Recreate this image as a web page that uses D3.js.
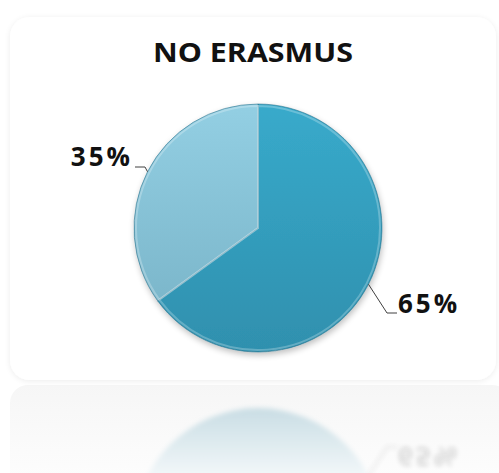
<!DOCTYPE html>
<html>
<head>
<meta charset="utf-8">
<script src="https://cdn.jsdelivr.net/npm/d3@7"></script>
<style>
  html, body { margin: 0; padding: 0; background: #fff; }
  svg { display: block; }
</style>
</head>
<body>
<div id="chart"></div>
<script>
// chart data
const title = 'NO ERASMUS';
const categories = ['Altro', 'Erasmus'];
const values = [65, 35];
const labels = ['65%', '35%'];

const svgWidth = 499;
const svgHeight = 473;
const center = { x: 258, y: 228 };
const radius = 124;
const mirrorY = 380;

const svg = d3.select('#chart').append('svg')
    .attr('width', svgWidth)
    .attr('height', svgHeight);

const defs = svg.append('defs');

// card shadow
const shadow = defs.append('filter').attr('id', 'cardShadow')
    .attr('x', '-10%').attr('y', '-10%').attr('width', '120%').attr('height', '120%');
shadow.append('feGaussianBlur').attr('in', 'SourceAlpha').attr('stdDeviation', 3);
shadow.append('feOffset').attr('dx', 0).attr('dy', 1).attr('result', 'off');
shadow.append('feComponentTransfer').append('feFuncA').attr('type', 'linear').attr('slope', 0.08);
const merge = shadow.append('feMerge');
merge.append('feMergeNode');
merge.append('feMergeNode').attr('in', 'SourceGraphic');

// pie shadow
const pieShadow = defs.append('filter').attr('id', 'pieShadow')
    .attr('x', '-20%').attr('y', '-20%').attr('width', '140%').attr('height', '140%');
pieShadow.append('feGaussianBlur').attr('in', 'SourceAlpha').attr('stdDeviation', 3);
pieShadow.append('feOffset').attr('dx', 1).attr('dy', 3);
pieShadow.append('feComponentTransfer').append('feFuncA').attr('type', 'linear').attr('slope', 0.25);
const pm = pieShadow.append('feMerge');
pm.append('feMergeNode');
pm.append('feMergeNode').attr('in', 'SourceGraphic');

// soft blur for the reflection
defs.append('filter').attr('id', 'reflBlur')
    .attr('x', '-10%').attr('y', '-10%').attr('width', '120%').attr('height', '120%')
    .append('feGaussianBlur').attr('stdDeviation', 2.5);

const sliceColors = [
    ['#38aacb', '#2f90ae'],
    ['#93cfe3', '#76b1c5']
];
sliceColors.forEach((c, i) => {
    const g = defs.append('linearGradient').attr('id', 'slice' + i)
        .attr('gradientUnits', 'userSpaceOnUse')
        .attr('x1', 0).attr('y1', -radius).attr('x2', 0).attr('y2', radius);
    g.append('stop').attr('offset', '0%').attr('stop-color', c[0]);
    g.append('stop').attr('offset', '100%').attr('stop-color', c[1]);
});

const refGrad = defs.append('linearGradient').attr('id', 'refGrad')
    .attr('gradientUnits', 'userSpaceOnUse')
    .attr('x1', 0).attr('y1', -radius).attr('x2', 0).attr('y2', -radius + 70);
refGrad.append('stop').attr('offset', '0%').attr('stop-color', '#c9dde4');
refGrad.append('stop').attr('offset', '100%').attr('stop-color', '#f3f8fa');

const cardGrad = defs.append('linearGradient').attr('id', 'cardGrad')
    .attr('x1', 0).attr('y1', 0).attr('x2', 0).attr('y2', 1);
cardGrad.append('stop').attr('offset', '0%').attr('stop-color', '#f6f6f6');
cardGrad.append('stop').attr('offset', '100%').attr('stop-color', '#ffffff');

// reflection card
svg.append('rect')
    .attr('x', 10).attr('y', 385).attr('width', 500).attr('height', 120)
    .attr('rx', 18)
    .attr('fill', 'url(#cardGrad)');

// main card
svg.append('rect')
    .attr('x', 10).attr('y', 17).attr('width', 486).attr('height', 363)
    .attr('rx', 20)
    .attr('fill', '#fff')
    .attr('filter', 'url(#cardShadow)');

svg.append('text')
    .attr('x', 253).attr('y', 62)
    .attr('text-anchor', 'middle')
    .attr('font-family', '"Open Sans", Lato, sans-serif')
    .attr('font-weight', 'bold')
    .attr('font-size', 27)
    .attr('textLength', 200)
    .attr('lengthAdjust', 'spacingAndGlyphs')
    .attr('fill', '#111')
    .text(title);

const pie = d3.pie().sort(null).value(d => d)(values);
const arc = d3.arc().innerRadius(0).outerRadius(radius);

// reflection of the pie (only its top shows in the reflection card)
svg.append('circle')
    .attr('cx', center.x)
    .attr('cy', 2 * mirrorY - center.y)
    .attr('r', radius)
    .attr('fill', 'url(#refGrad)')
    .attr('transform', 'translate(0,' + (2 * mirrorY - center.y) + ')')
    .attr('cy', 0)
    .attr('filter', 'url(#reflBlur)');

// pie
const pieG = svg.append('g')
    .attr('transform', 'translate(' + center.x + ',' + center.y + ')')
    .attr('filter', 'url(#pieShadow)');
pieG.selectAll('path.slice')
    .data(pie)
    .enter()
    .append('path')
    .attr('class', 'slice')
    .attr('d', arc)
    .attr('fill', (d, i) => 'url(#slice' + i + ')')
    .attr('stroke', 'rgba(40,110,135,0.55)')
    .attr('stroke-width', 1);

// bevel highlight on slice edges
pieG.selectAll('path.bevel')
    .data(pie)
    .enter()
    .append('path')
    .attr('class', 'bevel')
    .attr('d', d3.arc().innerRadius(0).outerRadius(radius - 2))
    .attr('fill', 'none')
    .attr('stroke', 'rgba(255,255,255,0.25)')
    .attr('stroke-width', 2);

// labels with leader lines
const labelPos = [
    { dx: 129, dy: 85, hx: 10, anchor: 'start' },
    { dx: -113, dy: -61, hx: -10, anchor: 'end' }
];
const labelFont = { family: '"Open Sans", Lato, sans-serif', size: 26, spacing: 3 };
const labelG = svg.append('g')
    .attr('transform', 'translate(' + center.x + ',' + center.y + ')');
pie.forEach((d, i) => {
    const mid = (d.startAngle + d.endAngle) / 2;
    const p0 = [Math.sin(mid) * radius, -Math.cos(mid) * radius];
    const lp = labelPos[i];
    const p1 = [lp.dx, lp.dy];
    const p2 = [lp.dx + lp.hx, lp.dy];
    labelG.append('path')
        .attr('d', d3.line()([p0, p1, p2]))
        .attr('fill', 'none')
        .attr('stroke', '#404040')
        .attr('stroke-width', 1);
    labelG.append('text')
        .attr('x', p2[0] + (lp.hx > 0 ? 1 : -2))
        .attr('y', p2[1] + (lp.hx > 0 ? 0 : -1))
        .attr('text-anchor', lp.anchor)
        .attr('font-family', labelFont.family)
        .attr('font-weight', 'bold')
        .attr('font-size', labelFont.size)
        .attr('letter-spacing', labelFont.spacing)
        .attr('fill', '#111')
        .text(labels[i]);
});

// faint mirrored 65% label
const mid0 = (pie[0].startAngle + pie[0].endAngle) / 2;
const reflLabel = svg.append('g')
    .attr('transform', 'translate(0,' + (2 * mirrorY) + ') scale(1,-1)')
    .attr('opacity', 0.15)
    .attr('filter', 'url(#reflBlur)');
reflLabel.append('path')
    .attr('d', d3.line()([
        [center.x + Math.sin(mid0) * radius, center.y - Math.cos(mid0) * radius],
        [center.x + labelPos[0].dx, center.y + labelPos[0].dy],
        [center.x + labelPos[0].dx + labelPos[0].hx, center.y + labelPos[0].dy]
    ]))
    .attr('fill', 'none').attr('stroke', '#404040').attr('stroke-width', 1.5);
reflLabel.append('text')
    .attr('x', center.x + labelPos[0].dx + labelPos[0].hx + 1)
    .attr('y', center.y + labelPos[0].dy)
    .attr('font-family', labelFont.family)
    .attr('font-weight', 'bold')
    .attr('font-size', labelFont.size)
    .attr('letter-spacing', labelFont.spacing)
    .attr('fill', '#111')
    .text(labels[0]);
</script>
</body>
</html>
